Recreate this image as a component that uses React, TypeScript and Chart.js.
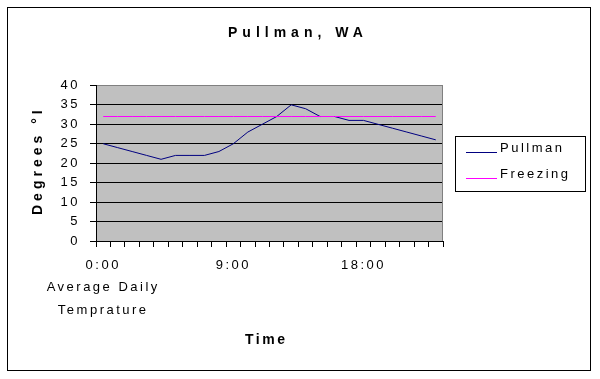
import React, { useEffect, useRef } from 'react';
import { Chart, registerables } from 'chart.js';

Chart.register(...registerables);

const hours = ['0:00', '1:00', '2:00', '3:00', '4:00', '5:00', '6:00', '7:00', '8:00', '9:00', '10:00', '11:00',
  '12:00', '13:00', '14:00', '15:00', '16:00', '17:00', '18:00', '19:00', '20:00', '21:00', '22:00', '23:00'];
const pullman = [25, 24, 23, 22, 21, 22, 22, 22, 23, 25, 28, 30, 32, 35, 34, 32, 32, 31, 31, 30, 29, 28, 27, 26];
const freezing = [32, 32, 32, 32, 32, 32, 32, 32, 32, 32, 32, 32, 32, 32, 32, 32, 32, 32, 32, 32, 32, 32, 32, 32];
const seriesNames = ['Pullman', 'Freezing'];
const yMin = 0;
const yMax = 40;
const yStep = 5;
const labelEvery = 9;
const titleText = 'Pullman, WA';
const yTitleText = 'Degrees °I';
const xTitleText = 'Time';
const axisNote = ['Average Daily', 'Temprature'];

const FONT = '"Liberation Sans", Arial, Helvetica, sans-serif';
const TICK_SPACING = '2.5px';

const decorPlugin = {
  id: 'decor',
  beforeUpdate(chart: any) {
    chart.ctx.letterSpacing = TICK_SPACING;
  },
  beforeDraw(chart: any) {
    const ctx = chart.ctx;
    ctx.letterSpacing = TICK_SPACING;
    const { left, top, right, bottom } = chart.chartArea;
    const t = Math.round(top);
    ctx.save();
    ctx.fillStyle = '#C0C0C0';
    ctx.fillRect(left, t, right - left, bottom - t);
    ctx.restore();
  },
  beforeDatasetsDraw(chart: any) {
    const ctx = chart.ctx;
    const { top, right, bottom } = chart.chartArea;
    ctx.save();
    ctx.strokeStyle = '#808080';
    ctx.lineWidth = 1;
    ctx.beginPath();
    ctx.moveTo(right - 0.5, Math.round(top));
    ctx.lineTo(right - 0.5, bottom);
    ctx.stroke();
    ctx.restore();
  },
  afterDraw(chart: any) {
    const ctx = chart.ctx;
    ctx.save();
    ctx.fillStyle = '#000000';
    ctx.textAlign = 'left';
    ctx.textBaseline = 'alphabetic';

    // Title
    ctx.font = 'bold 14px ' + FONT;
    ctx.letterSpacing = '5px';
    ctx.fillText(titleText, 228, 37);

    // X title
    ctx.letterSpacing = '2.5px';
    ctx.fillText(xTitleText, 245, 344);

    // Y title
    ctx.save();
    ctx.letterSpacing = '4px';
    ctx.translate(42, 215);
    ctx.rotate(-Math.PI / 2);
    ctx.fillText(yTitleText, 0, 0);
    ctx.restore();

    // Legend
    ctx.strokeStyle = '#000000';
    ctx.lineWidth = 1;
    ctx.strokeRect(455.5, 136.5, 130, 55);
    ctx.font = '13px ' + FONT;
    ctx.letterSpacing = '2.5px';
    const rows = [152, 178];
    chart.data.datasets.forEach((ds: any, i: number) => {
      const y = rows[i];
      ctx.strokeStyle = ds.borderColor;
      ctx.beginPath();
      ctx.moveTo(466, y + 0.5);
      ctx.lineTo(497, y + 0.5);
      ctx.stroke();
      ctx.fillStyle = '#000000';
      ctx.fillText(ds.label, 500, y);
    });

    // Outer border
    ctx.strokeStyle = '#000000';
    ctx.lineWidth = 1;
    ctx.strokeRect(7.5, 7.5, 583, 363);
    ctx.restore();
  },
};

export default function App() {
  const ref = useRef<HTMLCanvasElement | null>(null);

  useEffect(() => {
    document.body.style.margin = '0';
    const canvas = ref.current;
    if (!canvas) return;
    const chart = new Chart(canvas, {
      type: 'line',
      data: {
        labels: hours,
        datasets: [
          {
            label: seriesNames[0],
            data: pullman,
            borderColor: '#000080',
            backgroundColor: '#000080',
            borderWidth: 1,
            pointRadius: 0,
            tension: 0,
            order: 1,
          },
          {
            label: seriesNames[1],
            data: freezing,
            borderColor: '#FF00FF',
            backgroundColor: '#FF00FF',
            borderWidth: 1,
            pointRadius: 0,
            tension: 0,
            order: 0,
          },
        ],
      },
      options: {
        responsive: false,
        animation: false,
        devicePixelRatio: 1,
        layout: { padding: { top: 85.375, right: 157, left: 0, bottom: 0 } },
        plugins: {
          legend: { display: false },
          title: { display: false },
          tooltip: { enabled: false },
        },
        scales: {
          x: {
            type: 'category',
            offset: true,
            afterFit: (scale: any) => {
              scale.height = 138;
            },
            grid: {
              offset: true,
              drawOnChartArea: false,
              drawTicks: true,
              tickLength: 6,
              color: '#000000',
              tickColor: '#000000',
            },
            border: { color: '#000000', width: 1 },
            ticks: {
              autoSkip: false,
              maxRotation: 0,
              minRotation: 0,
              padding: 7,
              color: '#000000',
              font: { family: FONT, size: 13, lineHeight: 1.73 },
              callback: function (this: any, value: any, index: number) {
                if (index % labelEvery !== 0) return '';
                const lbl = this.getLabelForValue(value);
                return index === 0 ? [lbl, ...axisNote] : lbl;
              },
            },
          },
          y: {
            min: yMin,
            max: yMax,
            afterFit: (scale: any) => {
              scale.width = 96;
            },
            grid: {
              color: (c: any) => (c.tick && c.tick.value === yMax ? '#808080' : '#000000'),
              tickColor: '#000000',
              tickLength: 6,
              lineWidth: 1,
            },
            border: { color: '#000000', width: 1 },
            ticks: {
              stepSize: yStep,
              padding: 10,
              color: '#000000',
              font: { family: FONT, size: 13 },
            },
          },
        },
      },
      plugins: [decorPlugin],
    });
    return () => chart.destroy();
  }, []);

  return (
    <canvas
      ref={ref}
      width={600}
      height={379}
      style={{ display: 'block', width: '600px', height: '379px' }}
    />
  );
}
